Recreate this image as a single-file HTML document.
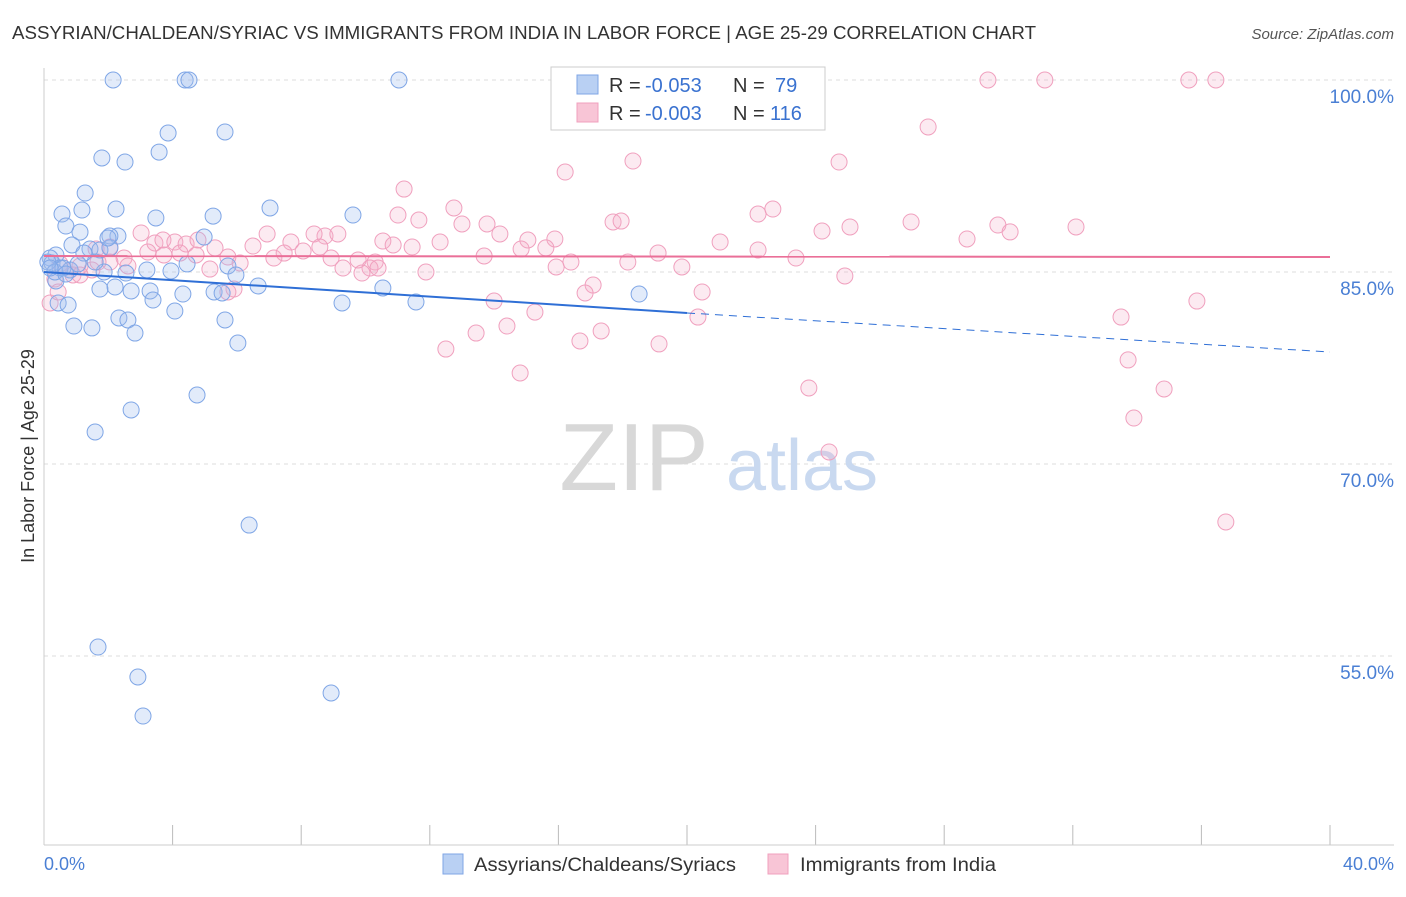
<!DOCTYPE html>
<html><head><meta charset="utf-8"><style>
body{margin:0;background:#fff;font-family:"Liberation Sans",sans-serif;}
svg text{font-family:"Liberation Sans",sans-serif;}
</style></head><body>
<svg id="chart" width="1406" height="892" xmlns="http://www.w3.org/2000/svg">
<text x="12" y="39" font-size="18" fill="#333" textLength="1024" lengthAdjust="spacingAndGlyphs">ASSYRIAN/CHALDEAN/SYRIAC VS IMMIGRANTS FROM INDIA IN LABOR FORCE | AGE 25-29 CORRELATION CHART</text>
<text x="1394" y="39" font-size="15" fill="#555" font-style="italic" text-anchor="end">Source: ZipAtlas.com</text>
<g id="grid"></g>
<g id="xticks"></g>
<line x1="44" y1="845" x2="1394" y2="845" stroke="#ccc" stroke-width="1"/>
<line x1="44" y1="68" x2="44" y2="845" stroke="#ccc" stroke-width="1"/>
<text transform="translate(34,456) rotate(-90)" font-size="18" fill="#333" text-anchor="middle">In Labor Force | Age 25-29</text>
<g><text x="634" y="490" font-size="96" fill="#d8d8d8" font-family="Liberation Serif,serif" text-anchor="middle">ZIP</text><text x="802" y="490" font-size="72" fill="#c9d9f0" text-anchor="middle">atlas</text></g>
<g id="ylabels"></g>
<text x="44" y="870" font-size="18" fill="#4a7fd4">0.0%</text>
<text x="1394" y="870" font-size="18" fill="#4a7fd4" text-anchor="end">40.0%</text>
<g id="pink"></g>
<g id="blue"></g>
<g id="trends"></g>
<g>
<rect x="551" y="67" width="274" height="63" fill="#fff" stroke="#ccc"/>
<rect x="577" y="75" width="21" height="19" fill="#b9d0f3" stroke="#7fa6e6"/>
<rect x="577" y="103" width="21" height="19" fill="#f8c5d6" stroke="#f0a0be"/>
<text font-size="20" fill="#333"><tspan x="609" y="92">R =</tspan><tspan x="645" y="92" fill="#3a72d0">-0.053</tspan><tspan x="733" y="92">N =</tspan><tspan x="775" y="92" fill="#3a72d0">79</tspan></text>
<text font-size="20" fill="#333"><tspan x="609" y="120">R =</tspan><tspan x="645" y="120" fill="#3a72d0">-0.003</tspan><tspan x="733" y="120">N =</tspan><tspan x="770" y="120" fill="#3a72d0">116</tspan></text>
</g>
<g>
<rect x="443" y="854" width="20" height="20" fill="#b9d0f3" stroke="#7fa6e6"/>
<text x="474" y="871" font-size="19" fill="#333" textLength="262" lengthAdjust="spacingAndGlyphs">Assyrians/Chaldeans/Syriacs</text>
<rect x="768" y="854" width="20" height="20" fill="#f8c5d6" stroke="#f0a0be"/>
<text x="800" y="871" font-size="19" fill="#333" textLength="196" lengthAdjust="spacingAndGlyphs">Immigrants from India</text>
</g>
</svg>
<script>
const yTicks=[100,85,70,55];
const xTickCount=[0,4,8,12,16,20,24,28,32,36,40];
const blueX=[2.15,4.39,4.51,11.04,3.86,5.63,3.58,1.80,2.52,1.28,2.24,1.18,0.56,3.48,5.26,7.03,9.61,0.68,1.12,2.30,4.98,2.05,0.87,1.43,1.74,0.37,0.19,0.25,0.5,0.81,1.87,2.55,3.2,3.95,4.45,5.72,5.97,0.37,1.74,2.21,2.71,3.3,4.32,5.29,5.54,6.66,10.54,18.51,0.44,0.75,3.39,9.27,11.57,2.33,2.61,4.07,5.63,0.93,1.49,2.83,6.03,4.76,2.71,1.59,6.38,1.68,2.92,8.93,3.08,0.12,0.34,0.59,1.59,1.24,2.05,0.19,0.68,1.06,1.99];
const blueY=[100,100,100,100,95.86,95.94,94.37,93.91,93.59,91.17,89.92,89.84,89.53,89.22,89.37,90,89.45,88.59,88.12,87.81,87.73,87.81,87.11,86.8,86.72,86.33,86.09,85.7,85.31,85.16,85.0,84.92,85.16,85.08,85.63,85.47,84.77,84.3,83.67,83.83,83.52,83.52,83.28,83.44,83.36,83.91,83.75,83.28,82.58,82.42,82.81,82.58,82.66,81.41,81.25,81.95,81.25,80.78,80.63,80.23,79.45,75.39,74.22,72.5,65.23,55.7,53.36,52.11,50.31,85.78,85.0,85.31,85.78,86.48,86.88,85.31,84.84,85.63,87.66];
const pinkX=[29.36,31.13,35.61,36.45,17.51,27.5,18.32,24.73,16.21,11.2,12.75,22.67,22.21,11.01,11.66,13.0,13.78,17.7,17.95,26.97,29.67,32.1,24.2,25.07,30.05,3.02,6.94,8.74,9.14,8.4,10.54,12.32,14.18,15.89,21.03,28.71,7.68,3.45,3.7,4.07,4.42,4.79,5.32,6.5,10.86,11.45,15.05,15.61,14.84,8.06,8.58,1.62,2.05,2.49,3.23,3.73,4.23,4.73,5.72,7.15,7.47,8.93,9.77,10.3,13.69,16.39,18.16,19.1,22.21,23.39,2.05,1.12,0.5,0.81,1.49,2.61,5.16,6.1,9.3,10.14,10.39,15.93,11.88,19.84,24.91,9.89,0.9,0.34,17.08,16.83,20.47,5.91,5.72,14.0,15.27,35.86,33.5,20.34,14.4,17.33,13.44,16.67,12.5,19.13,33.72,14.81,23.79,34.84,33.9,24.42,36.76,0.19,0.44,1.12,1.68];
const pinkY=[100,100,100,100,100,96.33,93.67,93.59,92.81,91.48,90,89.92,89.53,89.45,89.06,88.75,88.75,88.91,88.98,88.91,88.67,88.52,88.2,88.52,88.13,88.05,87.97,87.81,87.97,87.97,87.42,87.34,87.97,87.58,87.34,87.58,87.34,87.27,87.5,87.34,87.19,87.5,86.88,87.03,87.11,86.95,87.5,86.88,86.8,86.64,86.95,86.8,86.95,86.09,86.56,86.33,86.48,86.33,86.17,86.09,86.48,86.09,85.94,85.78,86.25,85.78,85.78,86.48,86.72,86.09,85.78,85.47,85.63,85.16,85.16,85.47,85.23,85.7,85.31,85.31,85.31,85.39,85.0,85.39,84.69,84.92,84.77,84.45,83.98,83.36,83.44,83.67,83.44,82.73,81.87,82.73,81.48,81.48,80.78,80.39,80.23,79.61,78.98,79.38,78.13,77.11,75.94,75.86,73.59,70.94,65.47,82.58,83.44,84.77,85.78];
const blueTrend=[85.0,81.8,78.75];
const pinkTrend=[86.25,86.17];
const NS="http://www.w3.org/2000/svg";
function X(v){return 44+v*(1330-44)/40;}
function Y(v){return 80+(100-v)*12.8;}
function mk(tag,attrs,parent){const e=document.createElementNS(NS,tag);for(const k in attrs)e.setAttribute(k,attrs[k]);parent.appendChild(e);return e;}
const grid=document.getElementById('grid'),yl=document.getElementById('ylabels'),xt=document.getElementById('xticks');
yTicks.forEach(t=>{
 const l=mk('line',{x1:44,x2:1394,y1:Y(t),y2:Y(t),stroke:'#ddd','stroke-dasharray':'4,4'},grid);
 
 
 const tx=mk('text',{x:1394,y:Y(t)+23,'font-size':19,fill:'#4a7fd4','text-anchor':'end'},yl);
 tx.textContent=t.toFixed(1)+'%';
 
 
});
xTickCount.forEach(t=>{
 const l=mk('line',{x1:X(t),x2:X(t),y1:825,y2:845,stroke:'#bbb'},xt);
 
 
});
const pg=document.getElementById('pink');
pinkX.forEach((v,i)=>{
 const c=mk('circle',{cx:X(v),cy:Y(pinkY[i]),r:8,fill:'rgba(245,170,200,0.25)',stroke:'#f0a0be','stroke-width':1},pg);
 
 
});
const bg=document.getElementById('blue');
blueX.forEach((v,i)=>{
 const c=mk('circle',{cx:X(v),cy:Y(blueY[i]),r:8,fill:'rgba(160,190,240,0.3)',stroke:'#7fa6e6','stroke-width':1},bg);
 
 
});
const tg=document.getElementById('trends');
const b1=mk('line',{x1:X(0),y1:Y(blueTrend[0]),x2:X(20),y2:Y(blueTrend[1]),stroke:'#2f6fd6','stroke-width':2},tg);


const b2=mk('line',{x1:X(20),y1:Y(blueTrend[1]),x2:X(40),y2:Y(blueTrend[2]),stroke:'#2f6fd6','stroke-width':1,'stroke-dasharray':'8,6'},tg);


const p1=mk('line',{x1:X(0),y1:Y(pinkTrend[0]),x2:X(40),y2:Y(pinkTrend[1]),stroke:'#ea6f98','stroke-width':2},tg);


</script>
</body></html>
